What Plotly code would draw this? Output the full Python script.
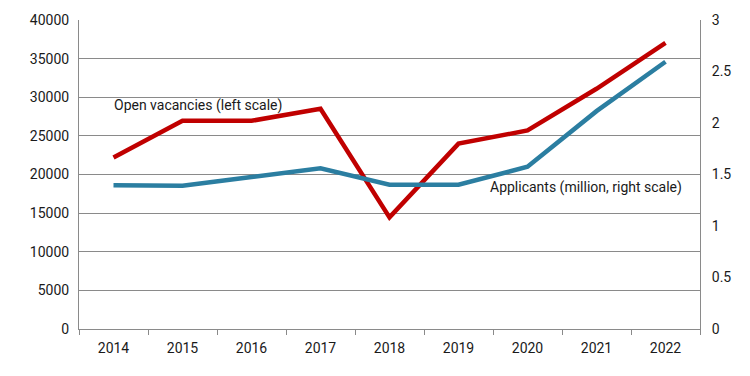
import plotly.graph_objects as go

years = ["2014", "2015", "2016", "2017", "2018", "2019", "2020", "2021", "2022"]
open_vacancies = [22200, 26950, 26950, 28500, 14450, 24000, 25700, 31100, 37050]
applicants = [1.395, 1.39, 1.475, 1.56, 1.40, 1.40, 1.575, 2.115, 2.595]
left_ticks = [0, 5000, 10000, 15000, 20000, 25000, 30000, 35000, 40000]
right_ticks = [0, 0.5, 1, 1.5, 2, 2.5, 3]

FONT = "Roboto"
GRID = "#8a8a8a"

fig = go.Figure()
fig.add_trace(go.Scatter(x=years, y=open_vacancies, mode="lines",
                         line=dict(color="#c00000", width=4.5), yaxis="y"))
fig.add_trace(go.Scatter(x=years, y=applicants, mode="lines",
                         line=dict(color="#2b7ea1", width=4.5), yaxis="y2"))

fig.update_layout(
    width=750, height=376,
    margin=dict(l=79, r=50, t=17, b=47),
    plot_bgcolor="white", paper_bgcolor="white",
    showlegend=False,
    font=dict(family=FONT, size=14, color="#1a1a1a"),
    xaxis=dict(type="category", tickson="boundaries", ticks="outside", ticklen=5,
               tickcolor=GRID, showline=True, linecolor=GRID, linewidth=1,
               showgrid=False, range=[-0.5, 8.5], ticklabelstandoff=6),
    yaxis=dict(range=[0, 40000], tickvals=left_ticks, ticktext=[str(v) for v in left_ticks],
               showgrid=True, gridcolor=GRID, gridwidth=1, showline=True,
               linecolor=GRID, zeroline=False, ticks="", ticklabelstandoff=6),
    yaxis2=dict(range=[0, 3], tickvals=right_ticks, ticktext=[str(v) for v in right_ticks],
                overlaying="y", side="right", showgrid=False, showline=True,
                linecolor=GRID, zeroline=False, ticks="", ticklabelstandoff=8),
    annotations=[
        dict(x=0, y=28950, xref="x", yref="y", text="Open vacancies (left scale)",
             showarrow=False, xanchor="left", yanchor="middle", xshift=-2,
             font=dict(family=FONT, size=14, color="#1a1a1a")),
        dict(x=8, y=1.37, xref="x", yref="y2", text="Applicants (million, right scale)",
             showarrow=False, xanchor="right", yanchor="middle", xshift=18,
             font=dict(family=FONT, size=14, color="#1a1a1a")),
    ],
)

fig.write_html("out.html", config={"displayModeBar": False},
               post_script="document.body.style.margin='0';")
